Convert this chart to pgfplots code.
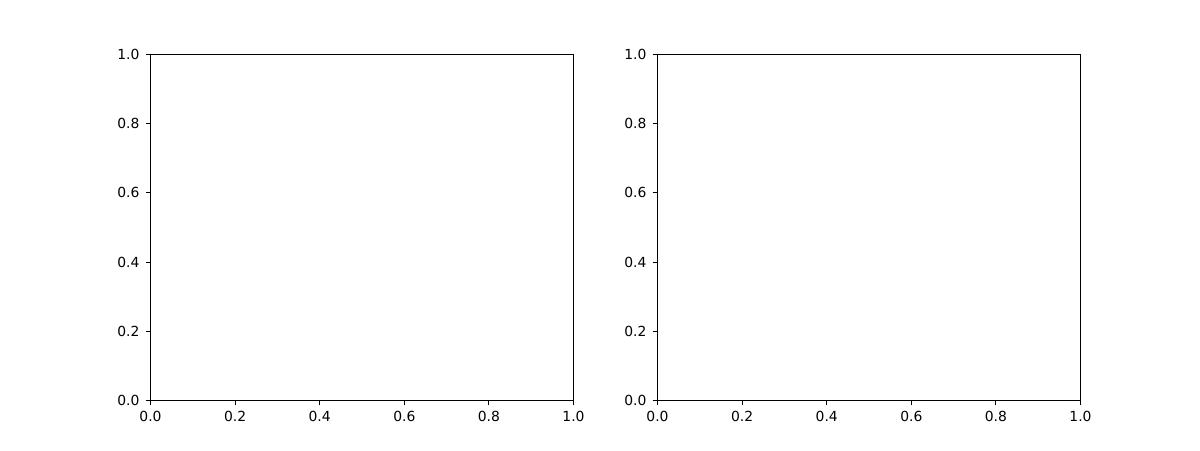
\documentclass[border=0pt]{standalone}
\usepackage{fontspec}
\setmainfont{DejaVu Sans}
\usepackage{pgfplots}
\pgfplotsset{compat=1.18}

\pgfplotsset{
  emptyax/.style={
    scale only axis,
    width=304.56pt, height=249.12pt,
    anchor=south west,
    xmin=0, xmax=1, ymin=0, ymax=1,
    xtick={0,0.2,0.4,0.6,0.8,1.0},
    ytick={0,0.2,0.4,0.6,0.8,1.0},
    tick align=outside,
    major tick length=3.5pt,
    axis line style={line width=0.72pt},
    every tick/.style={black, line width=0.72pt},
    xtick pos=bottom, ytick pos=left,
    tick label style={font=\fontsize{10}{12}\selectfont},
    /pgf/number format/assume math mode=true,
    xticklabel style={/pgf/number format/.cd, fixed, fixed zerofill, precision=1},
    yticklabel style={/pgf/number format/.cd, fixed, fixed zerofill, precision=1},
    xticklabel shift=1pt,
    yticklabel shift=1pt,
  }
}

\begin{document}
\begin{tikzpicture}
\useasboundingbox (0,0) rectangle (864pt,324pt);
\begin{axis}[emptyax, at={(108.36pt,35.64pt)}]
\end{axis}
\begin{axis}[emptyax, at={(473.4pt,35.64pt)}]
\end{axis}
\end{tikzpicture}
\end{document}
